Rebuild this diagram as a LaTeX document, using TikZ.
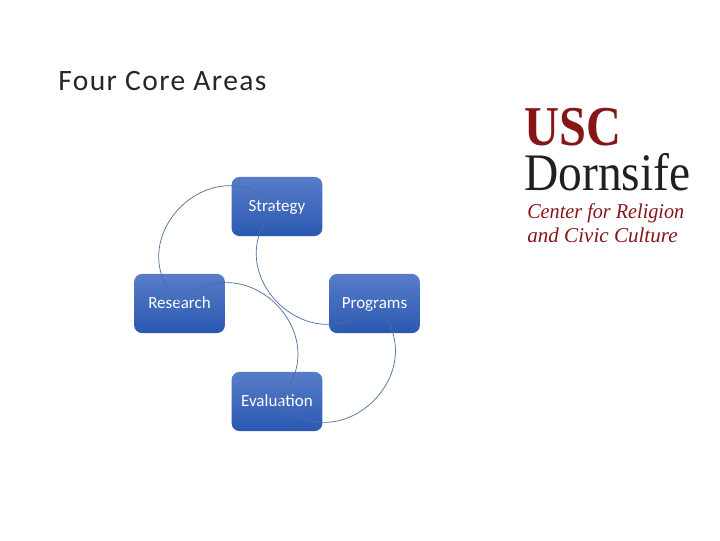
\documentclass[tikz,border=0pt]{standalone}
\usepackage{fontspec}
\setmainfont{Carlito}
\newfontfamily\logofont{Liberation Serif}
\definecolor{logored}{HTML}{861517}
\definecolor{logoblack}{HTML}{231F20}
\definecolor{ringline}{HTML}{4A6E9E}
\definecolor{boxtop}{HTML}{587CC8}
\definecolor{boxbottom}{HTML}{2A59B2}
\tikzset{
  areabox/.style={rounded corners=0.2cm, minimum width=2.27cm, minimum height=1.48cm, inner sep=0pt,
    text height=10.5pt, text depth=2.7pt,
    top color=boxtop, bottom color=boxbottom, text=white, font=\fontsize{12.1pt}{14pt}\selectfont},
  ringarc/.style={draw=ringline, line width=0.5pt, out=#1, in=#1, looseness=1.68},
  logotext/.style={anchor=base west, inner sep=0pt}
}
\begin{document}
\begin{tikzpicture}[x=0.025cm, y=-0.025cm]
    \useasboundingbox (0,0) rectangle (720,540);
    % Title
    \node[anchor=base west, inner sep=0pt, text=black!85, font=\fontsize{21pt}{24pt}\selectfont\addfontfeature{LetterSpace=4.8}] (title) at (58,90.5) {Four Core Areas};
    % Four boxes
    \node[areabox] (strategy) at (277,206.5) {Strategy};
    \node[areabox] (research) at (179.5,303.5) {Research};
    \node[areabox] (programs) at (374.5,303.5) {Programs};
    \node[areabox] (evaluation) at (277,401.5) {Evaluation};
    % Half circles, centre to centre
    \draw[ringarc=135] (strategy.center) to (research.center);
    \draw[ringarc=45] (research.center) to (evaluation.center);
    \draw[ringarc=-45] (evaluation.center) to (programs.center);
    \draw[ringarc=-135] (programs.center) to (strategy.center);
    % Logo
    \node[logotext, text=logored, font=\logofont\bfseries\fontsize{40pt}{40pt}\selectfont, xscale=0.86] (usc) at (524,145) {USC};
    \node[logotext, text=logoblack, font=\logofont\fontsize{37.5pt}{38pt}\selectfont, xscale=0.9] (dornsife) at (524,190) {Dornsife};
    \node[logotext, text=logored, font=\logofont\itshape\fontsize{15pt}{15pt}\selectfont, xscale=0.957] (center) at (527,218) {Center for Religion};
    \node[logotext, text=logored, font=\logofont\itshape\fontsize{15pt}{15pt}\selectfont] (civic) at (527,242) {and Civic Culture};
\end{tikzpicture}
\end{document}
